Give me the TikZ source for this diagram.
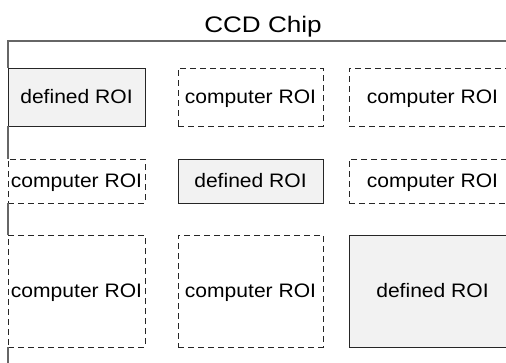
\documentclass[tikz,border=0pt]{standalone}
\usepackage{fontspec}
\setmainfont{Liberation Sans}
\newfontfamily\roifont{Liberation Sans}[FakeStretch=1.08]
\newfontfamily\chipfont{Liberation Sans}[FakeStretch=1.16]
\usepackage{tikz}
\newcommand{\roi}[1]{{\roifont\fontsize{19.5}{21}\selectfont #1}}

\begin{document}
\begin{tikzpicture}[x=1pt,y=-1pt,
    defined/.style={draw=black!85,line width=0.8pt,outer sep=0pt,inner xsep=0pt,fill=black!5,text depth=0pt,text height=13.8pt},
    computer/.style={draw=black!85,line width=0.8pt,outer sep=0pt,inner xsep=0pt,dash pattern=on 6pt off 4pt,text depth=0pt,text height=13.8pt},
    chip/.style={black!60,line width=1.2pt}]
    \useasboundingbox (0,0) rectangle (506,362);
    \clip (0,0) rectangle (506,362);
    \node[anchor=base] (chip_title) at (263,32) {\chipfont\fontsize{22.5}{25}\selectfont CCD Chip};
    % row 1
    \node[defined,minimum width=137pt,minimum height=58pt] (def_a) at (76.5,97) {\roi{defined ROI}};
    \node[computer,minimum width=145pt,minimum height=58pt] (comp_a) at (250.5,97) {\roi{computer ROI}};
    \node[computer,minimum width=167pt,minimum height=58pt] (comp_b) at (432.5,97) {\roi{computer ROI}};
    % row 2
    \node[computer,minimum width=137pt,minimum height=44pt] (comp_c) at (76.5,181) {\roi{computer ROI}};
    \node[defined,minimum width=145pt,minimum height=44pt] (def_b) at (250.5,181) {\roi{defined ROI}};
    \node[computer,minimum width=167pt,minimum height=44pt] (comp_d) at (432.5,181) {\roi{computer ROI}};
    % row 3
    \node[computer,minimum width=137pt,minimum height=112pt] (comp_e) at (76.5,291) {\roi{computer ROI}};
    \node[computer,minimum width=145pt,minimum height=112pt] (comp_f) at (250.5,291) {\roi{computer ROI}};
    \node[defined,minimum width=167pt,minimum height=112pt] (def_c) at (432.5,291) {\roi{defined ROI}};
    % chip outline, seen between the boxes
    \coordinate (chip_nw) at (8,41);
    \coordinate (chip_ne) at (510,41);
    \coordinate (chip_sw) at (8,366);
    \draw[chip] (chip_ne) -- (chip_nw) -- (def_a.north west);
    \draw[chip] (def_a.south west) -- (comp_c.north west);
    \draw[chip] (comp_c.south west) -- (comp_e.north west);
    \draw[chip] (comp_e.south west) -- (chip_sw);
  \end{tikzpicture}
\end{document}
